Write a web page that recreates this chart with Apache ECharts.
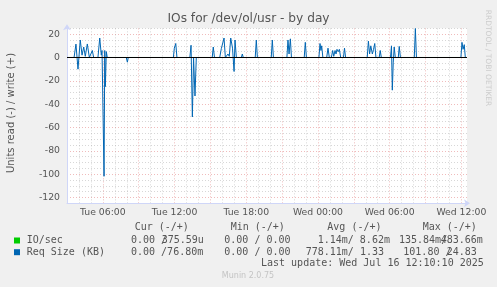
<!DOCTYPE html>
<html><head><meta charset="utf-8">
<script src="https://cdn.jsdelivr.net/npm/echarts@6/dist/echarts.min.js"></script>
<style>html,body{margin:0;padding:0;background:#F0F0F0}#c{width:497px;height:287px}</style>
</head><body><div id="c"></div>
<script>
// ---------- data ----------
const chartTitle = 'IOs for /dev/ol/usr - by day';
const yAxisTitle = 'Units read (-) / write (+)';
const sideText = 'RRDTOOL / TOBI OETIKER';
const footerText = 'Munin 2.0.75';
const lastUpdate = 'Last update: Wed Jul 16 12:10:10 2025';
// x in hours since Tue 00:00
const xMin = 3, xMax = 36.47;
const xTickHours = [6, 12, 18, 24, 30, 36];
const xTickLabels = ['Tue 06:00', 'Tue 12:00', 'Tue 18:00', 'Wed 00:00', 'Wed 06:00', 'Wed 12:00'];
const yMin = -125, yMax = 25;
const yTickValues = [-120, -100, -80, -60, -40, -20, 0, 20];

const reqSizeHours = [3.00,3.59,3.75,3.92,4.11,4.26,4.40,4.53,4.70,4.87,4.98,5.12,5.23,5.59,5.74,5.87,5.93,6.10,6.16,6.21,6.29,6.37,
  7.96,8.05,8.13,11.90,11.98,12.10,12.20,13.28,13.38,13.49,13.59,13.71,13.82,15.15,15.24,15.34,
  15.78,15.91,16.03,16.14,16.25,16.38,16.47,16.58,16.70,16.85,16.98,17.06,17.17,17.59,17.67,17.75,
  18.75,18.84,18.93,20.09,20.18,20.27,21.40,21.49,21.58,21.69,21.78,22.85,22.94,23.03,
  24.08,24.17,24.25,24.31,24.41,24.73,24.84,24.95,25.12,25.23,25.32,25.43,25.51,25.59,25.70,25.79,25.90,
  26.13,26.22,26.31,28.12,28.22,28.32,28.42,28.55,28.65,28.75,28.85,29.12,29.21,29.30,
  30.07,30.15,30.22,30.30,30.38,30.47,30.72,30.80,30.90,32.06,32.15,32.24,35.96,36.05,36.14,36.24,36.33];
const reqSizeValues = [0,0,11.5,-10,15,2,9,1,11.6,0,0,6,0,0,16.7,2,6,-101.8,6,-25,5,0,
  0,-4,0,0,8,12,0,0,10.5,-51,0,-33,0,0,9,0,
  0,7.5,6,16.7,0,0,3,1,16.7,8,-12,15,0,0,3,0,
  0,15,0,0,15,0,0,15,3,16,0,0,13,0,
  0,12,6,10,0,0,8,0,0,6,1,6,3,7,5,7,0,
  0,8,0,0,14,3,10,3,7,12,0,0,6,0,
  0,10,-28,-4,9,0,0,9.5,0,0,24.83,0,0,13,7,11,0];

const ioHours = [3.00, 6.02, 6.10, 6.18, 13.41, 13.49, 13.57, 32.07, 32.15, 32.23, 36.33];
const ioValues = [0, 0, -0.136, 0, 0, -0.05, 0, 0, 0.484, 0, 0];

const seriesNames = ['IO/sec', 'Req Size (KB)'];
const seriesColors = ['#00CC00', '#0066B3'];
const legendHeaders = ['Cur (-/+)', 'Min (-/+)', 'Avg (-/+)', 'Max (-/+)'];
const ioStats = ['0.00 /', '375.59u', '0.00 / 0.00', '1.14m/ 8.62m', '135.84m/', '483.66m'];
const reqStats = ['0.00 /76.80m', '0.00 / 0.00', '778.11m/ 1.33', '101.80 /', '24.83'];

// ---------- drawing ----------
const mono = "'DejaVu Sans Mono', monospace";
const sans = "'DejaVu Sans', sans-serif";
const fontColor = '#555555';
const gridGrey = 'rgba(160,160,160,0.42)';
const gridRed = 'rgba(225,120,120,0.5)';
const axisColor = '#CFD6F8';

function txt(text, x, y, extra) {
  return { type: 'text', x: x, y: y, silent: true, rotation: (extra && extra.rotation) || 0,
    style: Object.assign({ text: text, fill: fontColor, fontSize: 10, fontFamily: mono, align: 'left', verticalAlign: 'middle' },
      (extra && extra.style) || {}) };
}

const graphics = [
  txt(chartTitle, 248.5, 19, { style: { fontFamily: sans, fontSize: 12.2, align: 'center', fill: '#555' } }),
  txt(yAxisTitle, 11, 113, { rotation: Math.PI / 2, style: { fontFamily: sans, fontSize: 10, align: 'center' } }),
  txt(sideText, 487.5, 58, { rotation: -Math.PI / 2, style: { fontFamily: sans, fontSize: 7.5, align: 'center', fill: '#cccccc' } }),
  txt(footerText, 248, 276.3, { style: { fontFamily: sans, fontSize: 8, align: 'center', fill: '#c4c4c4' } }),
  txt(legendHeaders[0], 134.7, 227), txt(legendHeaders[1], 230.7, 227),
  txt(legendHeaders[2], 327.3, 227), txt(legendHeaders[3], 422.7, 227),
  { type: 'rect', silent: true, shape: { x: 14, y: 237.5, width: 6, height: 6 }, style: { fill: seriesColors[0] } },
  { type: 'rect', silent: true, shape: { x: 14, y: 249.2, width: 6, height: 6 }, style: { fill: seriesColors[1] } },
  txt(seriesNames[0], 26.7, 240.3), txt(seriesNames[1], 26.7, 252),
  txt(ioStats[0], 131, 240.3), txt(ioStats[1], 161.7, 240.3), txt(ioStats[2], 224.3, 240.3),
  txt(ioStats[3], 317.7, 240.3), txt(ioStats[4], 399, 240.3), txt(ioStats[5], 440.7, 240.3),
  txt(reqStats[0], 131, 252), txt(reqStats[1], 224.3, 252), txt(reqStats[2], 305.7, 252),
  txt(reqStats[3], 403.3, 252), txt(reqStats[4], 446.7, 252),
  txt(lastUpdate, 261, 263.4)
];

const chart = echarts.init(document.getElementById('c'), null, { renderer: 'canvas' });
chart.setOption({
  animation: false,
  backgroundColor: '#F0F0F0',
  grid: { left: 67, top: 28.33, width: 400, height: 175, show: true, backgroundColor: '#FFFFFF', borderWidth: 0 },
  xAxis: {
    type: 'value', min: xMin, max: xMax, interval: 1,
    axisLine: { show: true, onZero: false, lineStyle: { color: axisColor, width: 1 },
      symbol: ['none', 'arrow'], symbolSize: [6, 6], symbolOffset: [0, 3] },
    axisTick: { show: false },
    axisLabel: { color: fontColor, fontSize: 9.3, fontFamily: sans, margin: 5,
      formatter: function (v) { const i = xTickHours.indexOf(v); return i >= 0 ? xTickLabels[i] : ''; } },
    splitLine: { show: true, showMaxLine: false, lineStyle: { color: [gridRed, gridGrey, gridGrey], type: [1, 2], width: 1 } }
  },
  yAxis: {
    type: 'value', min: yMin, max: yMax, interval: 5,
    axisLine: { show: true, onZero: false, lineStyle: { color: axisColor, width: 1 },
      symbol: ['none', 'arrow'], symbolSize: [6, 6], symbolOffset: [0, 4] },
    axisTick: { show: false },
    axisLabel: { color: fontColor, fontSize: 9.3, fontFamily: sans, margin: 7,
      formatter: function (v) { return yTickValues.indexOf(v) >= 0 ? String(v) : ''; } },
    splitLine: { show: true, lineStyle: { color: [gridGrey, gridRed, gridGrey, gridGrey], type: [1, 2], width: 1 } }
  },
  series: [
    { type: 'line', name: seriesNames[0], z: 2, showSymbol: false, silent: true,
      data: ioHours.map(function (h, i) { return [h, ioValues[i]]; }),
      lineStyle: { color: seriesColors[0], width: 1 }, itemStyle: { color: seriesColors[0] } },
    { type: 'line', name: seriesNames[1], z: 3, showSymbol: false, silent: true,
      data: reqSizeHours.map(function (h, i) { return [h, reqSizeValues[i]]; }),
      lineStyle: { color: seriesColors[1], width: 1 }, itemStyle: { color: seriesColors[1] } },
    { type: 'line', name: 'zero', zlevel: 1, data: [], silent: true, showSymbol: false,
      markLine: { silent: true, symbol: 'none', label: { show: false },
        lineStyle: { color: '#000000', width: 1.2, type: 'solid' }, data: [{ yAxis: 0 }] } }
  ],
  graphic: graphics
});
</script>
</body></html>
